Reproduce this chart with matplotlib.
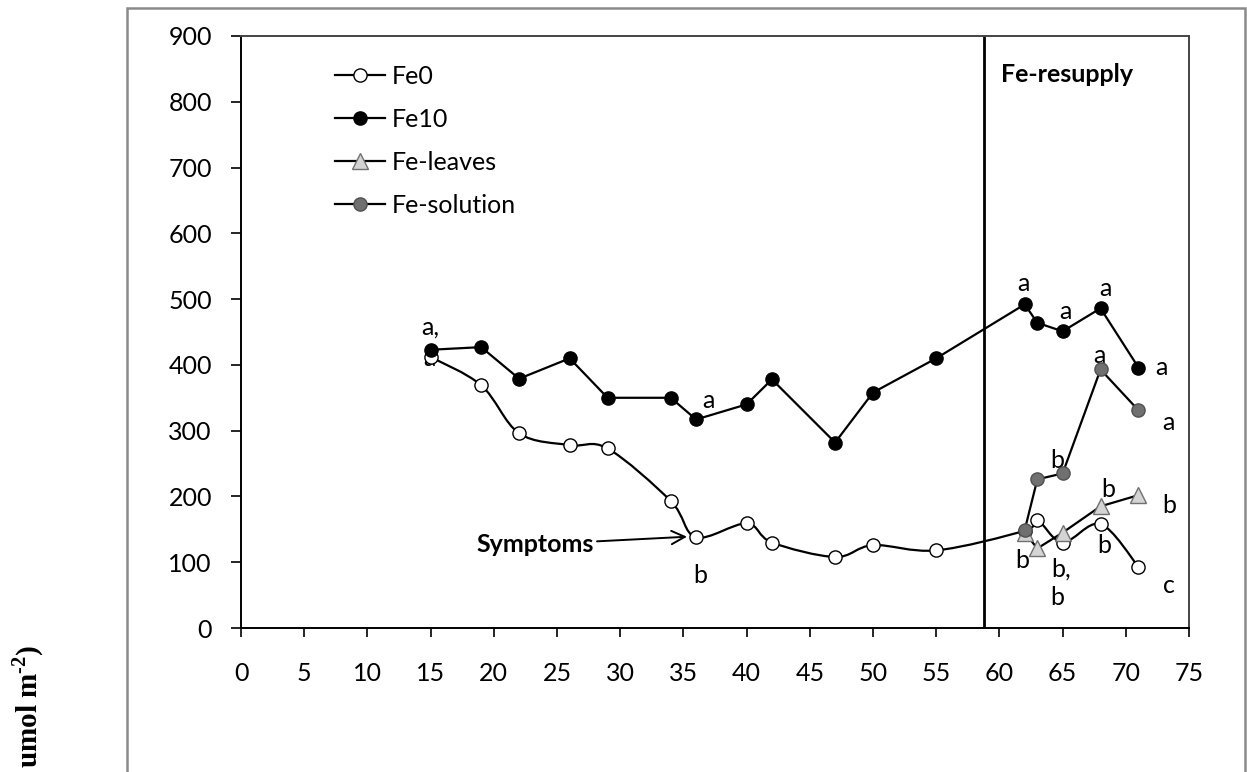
import numpy as np
import matplotlib.pyplot as plt
from matplotlib.path import Path
from matplotlib.patches import PathPatch, Rectangle

plt.rcParams['font.family'] = ['Lato', 'DejaVu Sans']
plt.rcParams['mathtext.fontset'] = 'custom'
plt.rcParams['mathtext.rm'] = 'Liberation Serif:bold'
plt.rcParams['mathtext.bf'] = 'Liberation Serif:bold'

# days after start
days_fe0 = [15, 19, 22, 26, 29, 34, 36, 40, 42, 47, 50, 55, 62, 63, 65, 68, 71]
fe0 = [412, 369, 296, 278, 273, 193, 138, 159, 130, 108, 126, 118, 148, 164, 130, 158, 93]

days_fe10 = [15, 19, 22, 26, 29, 34, 36, 40, 42, 47, 50, 55, 62, 63, 65, 68, 71]
fe10 = [423, 427, 379, 410, 350, 350, 317, 340, 378, 282, 358, 410, 492, 464, 451, 486, 396]

days_resupply = [62, 63, 65, 68, 71]
fe_leaves = [145, 121, 145, 185, 202]
fe_solution = [149, 226, 235, 393, 331]

resupply_day = 58.8

# significance letters (x, y, text)
letters = [(15, 457, 'a,'), (14.9, 410, 'a'), (37, 346, 'a'), (36.3, 80, 'b'),
           (61.9, 523, 'a'), (65.2, 481, 'a'), (68.4, 516, 'a'),
           (67.9, 414, 'a'), (72.8, 396, 'a'), (73.4, 313, 'a'),
           (64.6, 255, 'b'), (68.6, 211, 'b'), (73.4, 187, 'b'),
           (61.8, 103, 'b'), (64.9, 89, 'b,'), (64.6, 47, 'b'),
           (68.3, 126, 'b'), (73.4, 64, 'c')]


def smooth_path(xs, ys):
    # excel-like smoothed line: catmull-rom as cubic beziers
    pts = np.column_stack([xs, ys]).astype(float)
    verts = [pts[0]]
    codes = [Path.MOVETO]
    n = len(pts)
    for i in range(n - 1):
        p0 = pts[i - 1] if i > 0 else pts[i]
        p1 = pts[i]
        p2 = pts[i + 1]
        p3 = pts[i + 2] if i + 2 < n else pts[i + 1]
        c1 = p1 + (p2 - p0) / 6.0
        c2 = p2 - (p3 - p1) / 6.0
        verts += [c1, c2, p2]
        codes += [Path.CURVE4] * 3
    return Path(verts, codes)


fs = 18

fig = plt.figure(figsize=(12.47, 7.72), dpi=100)
ax = fig.add_axes([0.1933, 0.1865, 0.7602, 0.7669])

# outer frame
fig.patches.append(Rectangle((127 / 1247, -0.05), (1245 - 127) / 1247, 1 - 8 / 772 + 0.05,
                             transform=fig.transFigure, fill=False, ec='#8a8a8a', lw=1.8))

ms = 9.5
ax.add_patch(PathPatch(smooth_path(days_fe0, fe0), fill=False, ec='black', lw=1.6, zorder=2))
ax.plot(days_fe0, fe0, 'o', mfc='white', mec='black', mew=1.0, ms=ms, zorder=3)
h0, = ax.plot([], [], '-o', color='black', mfc='white', mec='black', mew=1.0, ms=ms, lw=1.6, label='Fe0')

h1, = ax.plot(days_fe10, fe10, '-o', color='black', mfc='black', mec='black', ms=ms, lw=1.6, zorder=4, label='Fe10')
h2, = ax.plot(days_resupply, fe_leaves, '-^', color='black', mfc='#d4d4d4', mec='#707070', mew=1.0, ms=12, lw=1.6, zorder=5, label='Fe-leaves')
h3, = ax.plot(days_resupply, fe_solution, '-o', color='black', mfc='#707070', mec='#505050', mew=1.0, ms=ms, lw=1.6, zorder=6, label='Fe-solution')

ax.axvline(resupply_day, color='black', lw=2, zorder=1)
ax.text(60.1, 842, 'Fe-resupply', fontsize=fs, fontweight='bold', va='center', ha='left')

for x, y, s in letters:
    ax.text(x, y, s, fontsize=fs, ha='center', va='center', zorder=2)

ax.annotate('Symptoms', xy=(35.5, 139), xytext=(23.3, 127), fontsize=fs, fontweight='bold',
            ha='center', va='center',
            arrowprops=dict(arrowstyle='->', color='black', lw=1.4, shrinkA=0, shrinkB=2,
                            mutation_scale=24))

ax.set_xlim(0, 75)
ax.set_ylim(0, 900)
ax.set_xticks(np.arange(0, 76, 5))
ax.set_yticks(np.arange(0, 901, 100))
ax.tick_params(axis='both', labelsize=fs, direction='out', width=1.2)
ax.tick_params(axis='x', length=6.5, pad=18)
ax.tick_params(axis='y', length=7, pad=14)
for side in ['left', 'bottom']:
    ax.spines[side].set_linewidth(1.4)
for side in ['top', 'right']:
    ax.spines[side].set_linewidth(1.4)
    ax.spines[side].set_color('#444444')

ax.legend(handles=[h0, h1, h2, h3], loc='upper left', bbox_to_anchor=(0.089, 0.968), frameon=False,
          fontsize=fs, handlelength=2.0, handletextpad=0.25, labelspacing=0.8, borderaxespad=0)

fig.text(0.0225, 1 - 645 / 772, 'umol m$^{\\text{-2}}$)', rotation=90, ha='center', va='top',
         fontsize=21, fontweight='bold', family='Liberation Serif')

fig.savefig('out.png', dpi=100)
